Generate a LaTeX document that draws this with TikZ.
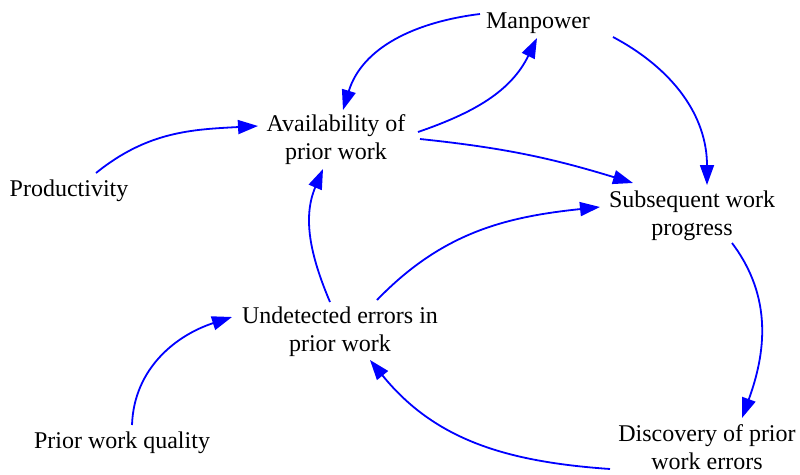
\documentclass[tikz,border=0pt]{standalone}
\usepackage{fontspec}
\setmainfont{Liberation Serif}
\usetikzlibrary{arrows.meta}
\definecolor{arrblue}{RGB}{0,0,255}
\begin{document}
\begin{tikzpicture}[x=1pt,y=1pt,
  lab/.style={font=\fontsize{24}{28}\selectfont, inner sep=0pt, anchor=base, text=black},
  link/.style={draw=arrblue, line width=1.8pt, -{Triangle[length=20pt,width=14pt]}}]
\useasboundingbox (0,0) rectangle (800,-474);
\node[lab] (man) at (538,-28) {Manpower};
\node[lab] (avail) at (336,-131) {\begin{tabular}[t]{@{}c@{}}Availability of\\prior work\end{tabular}};
\node[lab] (prod) at (69,-196) {Productivity};
\node[lab] (sub) at (692,-207) {\begin{tabular}[t]{@{}c@{}}Subsequent work\\progress\end{tabular}};
\node[lab] (undet) at (340,-323) {\begin{tabular}[t]{@{}c@{}}Undetected errors in\\prior work\end{tabular}};
\node[lab] (pwq) at (122,-448) {Prior work quality};
\node[lab] (disc) at (707,-441) {\begin{tabular}[t]{@{}c@{}}Discovery of prior\\work errors\end{tabular}};

\draw[link] ([shift={(-58,14)}]man.base) to[out=187,in=73] ([shift={(7,21)}]avail.base);
\draw[link] ([shift={(82,-1)}]avail.base) to[out=19,in=244] ([shift={(-1,-10)}]man.base);
\draw[link] ([shift={(75,-9)}]man.base) to[out=-28,in=90] ([shift={(15,22)}]sub.base);
\draw[link] ([shift={(84,-8)}]avail.base) to[out=-6,in=163] ([shift={(-59,24)}]sub.base);
\draw[link] ([shift={(27,23)}]prod.base) to[out=39,in=183] ([shift={(-78,5)}]avail.base);
\draw[link] ([shift={(-10,21)}]undet.base) to[out=113,in=247] ([shift={(-13,-38)}]avail.base);
\draw[link] ([shift={(37,23)}]undet.base) to[out=46,in=186] ([shift={(-92,0)}]sub.base);
\draw[link] ([shift={(40,-36)}]sub.base) to[out=-53,in=70] ([shift={(35,23)}]disc.base);
\draw[link] ([shift={(-97,-28)}]disc.base) to[out=176,in=309] ([shift={(30,-37)}]undet.base);
\draw[link] ([shift={(10,23)}]pwq.base) to[out=88,in=198] ([shift={(-108,6)}]undet.base);
\end{tikzpicture}
\end{document}
